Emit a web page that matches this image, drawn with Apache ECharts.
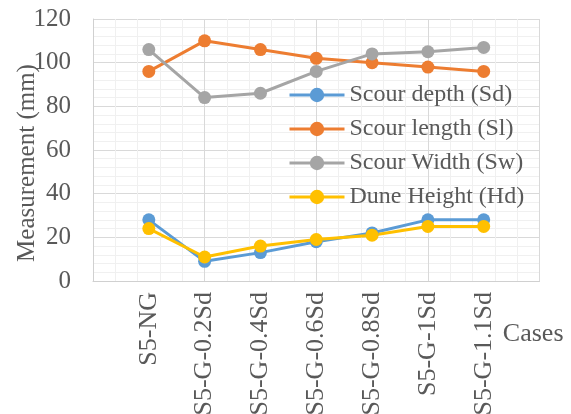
<!DOCTYPE html>
<html>
<head>
<meta charset="utf-8">
<script src="https://cdn.jsdelivr.net/npm/echarts@6/dist/echarts.min.js"></script>
<style>
  html, body { margin: 0; padding: 0; background: #fff; }
  #chart { width: 571px; height: 414px; }
</style>
</head>
<body>
<div id="chart"></div>
<script>
// Test cases along the x axis
const cases = ['S5-NG', 'S5-G-0.2Sd', 'S5-G-0.4Sd', 'S5-G-0.6Sd', 'S5-G-0.8Sd', 'S5-G-1Sd', 'S5-G-1.1Sd'];

// Measured values (mm)
const scourDepth  = [28, 9, 13, 18, 22, 28, 28];
const scourLength = [96, 110, 106, 102, 100, 98, 96];
const scourWidth  = [106, 84, 86, 96, 104, 105, 107];
const duneHeight  = [24, 11, 16, 19, 21, 25, 25];

const seriesNames = ['Scour depth (Sd)', 'Scour length (Sl)', 'Scour Width (Sw)', 'Dune Height (Hd)'];
const seriesColors = ['#5b9bd5', '#ed7d31', '#a5a5a5', '#ffc000'];
const seriesValues = [scourDepth, scourLength, scourWidth, duneHeight];

const FONT = "'Liberation Serif', 'Times New Roman', serif";
const TEXT = '#595959';

const chart = echarts.init(document.getElementById('chart'), null, { renderer: 'canvas' });

// each case sits at position 1..n on a numeric axis running 0..n+1
const toPoints = vals => vals.map((v, i) => [i + 1, v]);

chart.setOption({
  animation: false,
  backgroundColor: '#ffffff',
  grid: { left: 93, right: 31.5, top: 19, bottom: 133, containLabel: false, outerBoundsMode: 'none' },
  legend: {
    orient: 'vertical',
    left: 288,
    top: 83,
    padding: 0,
    itemWidth: 55,
    itemHeight: 18,
    itemGap: 10,
    data: seriesNames,
    lineStyle: { width: 3 },
    textStyle: { fontFamily: FONT, fontSize: 24, color: TEXT, lineHeight: 24 }
  },
  xAxis: [
    {
      // grid axis: major lines every 2, minor lines in between
      type: 'value',
      min: 0,
      max: cases.length + 1,
      interval: 2,
      position: 'bottom',
      axisLine: { show: true, lineStyle: { color: '#d0d0d0', width: 1 } },
      axisTick: { show: false },
      axisLabel: { show: false },
      splitLine: { show: true, lineStyle: { color: '#d9d9d9', width: 1 } },
      minorTick: { show: false, splitNumber: 5 },
      minorSplitLine: { show: true, lineStyle: { color: '#f0f0f0', width: 1 } }
    },
    {
      // label axis: case names at each integer position
      type: 'value',
      min: 0,
      max: cases.length + 1,
      interval: 1,
      position: 'bottom',
      axisLine: { show: false },
      axisTick: { show: false },
      splitLine: { show: false },
      axisLabel: {
        show: true,
        rotate: 90,
        margin: 11,
        fontFamily: FONT,
        fontSize: 26,
        color: TEXT,
        formatter: v => cases[v - 1] || ''
      },
      name: 'Cases',
      nameLocation: 'end',
      nameGap: 24,
      nameMoveOverlap: false,
      nameTextStyle: {
        fontFamily: FONT, fontSize: 26, color: TEXT,
        align: 'right', verticalAlign: 'top', padding: [40, 0, 0, 0]
      }
    }
  ],
  yAxis: {
    type: 'value',
    min: 0,
    max: 120,
    interval: 20,
    axisLine: { show: true, lineStyle: { color: '#d0d0d0', width: 1 } },
    axisTick: { show: false },
    axisLabel: { margin: 22, fontFamily: FONT, fontSize: 25, color: TEXT },
    splitLine: { show: true, lineStyle: { color: '#d9d9d9', width: 1 } },
    minorTick: { show: false, splitNumber: 5 },
    minorSplitLine: { show: true, lineStyle: { color: '#f0f0f0', width: 1 } },
    name: 'Measurement (mm)',
    nameLocation: 'middle',
    nameGap: 53,
    nameMoveOverlap: false,
    nameTextStyle: { fontFamily: FONT, fontSize: 25, color: TEXT, padding: [0, 26, 0, 0] }
  },
  series: seriesNames.map((name, k) => ({
    name,
    type: 'line',
    xAxisIndex: 0,
    data: toPoints(seriesValues[k]),
    symbol: 'circle',
    symbolSize: 13,
    color: seriesColors[k],
    lineStyle: { color: seriesColors[k], width: 3 },
    itemStyle: { color: seriesColors[k] }
  }))
});
</script>
</body>
</html>
